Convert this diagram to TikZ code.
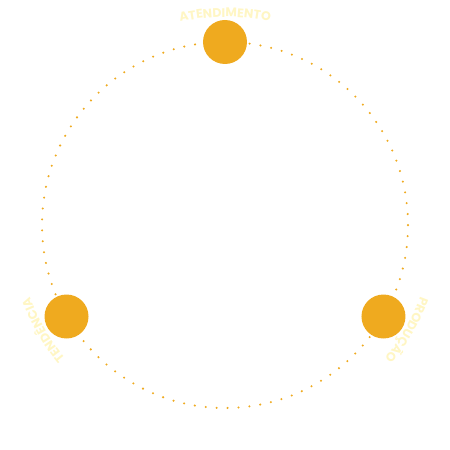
\documentclass[tikz,border=0pt]{standalone}
\usepackage{fontspec}
\setmainfont{Poppins}
\usetikzlibrary{decorations.text}

\definecolor{gold}{RGB}{239,170,31}
\definecolor{paleyellow}{RGB}{255,246,196}

\tikzset{
  ring/.style={gold, line width=2.3pt, line cap=round, dash pattern=on 0pt off 10.95pt},
  stage/.style={circle, fill=gold, minimum size=44pt, inner sep=0pt},
  arclabel/.style={decorate, decoration={text along path, text align=center,
    text={|\fontsize{12.5}{13}\selectfont\bfseries\color{paleyellow}|#1}}}
}

\begin{document}
\begin{tikzpicture}[x=1pt,y=1pt]
\useasboundingbox (-225,-225) rectangle (225,225);
\draw[ring] (0,0) circle (183);
\node[stage] (atendimento) at (90:183) {};
\node[stage] (tendencia) at (210:183) {};
\node[stage] (producao) at (330:183) {};
\path[arclabel=ATENDIMENTO] (125:208) arc (125:55:208);
\path[arclabel=TENDÊNCIA] (245:208) arc (245:175:208);
\path[arclabel=PRODUÇÃO] (365:208) arc (365:295:208);
\end{tikzpicture}
\end{document}
